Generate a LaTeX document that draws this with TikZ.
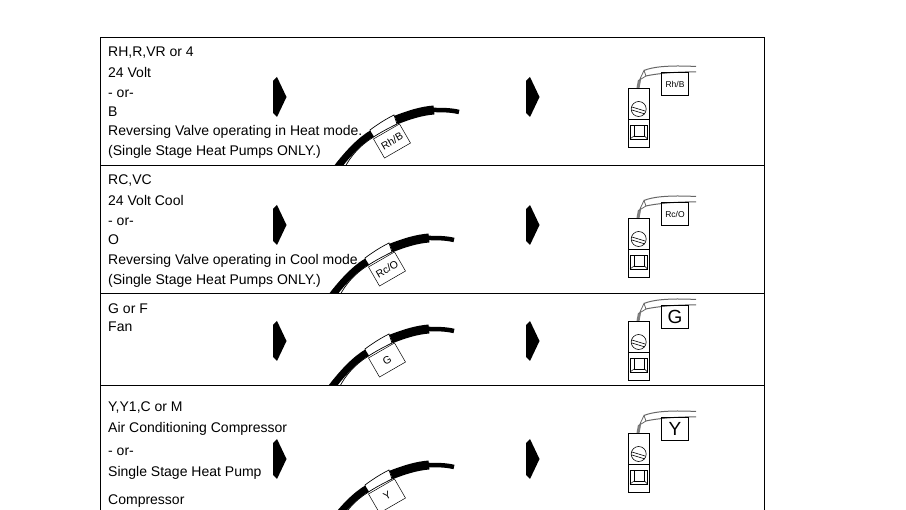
\documentclass[tikz,border=0pt]{standalone}
\usepackage{fontspec}
\setmainfont{Liberation Sans}
\tikzset{
  rowtext/.style={anchor=base west, inner sep=0pt, font=\fontsize{14}{16}\selectfont},
  wirelabel/.style={draw, line width=.5pt, rotate=30, minimum width=30pt, minimum height=22pt, inner sep=0pt, font=\fontsize{10.5}{11}\selectfont},
  termlabel/.style={draw, line width=.6pt, minimum width=27pt, minimum height=23pt, inner sep=0pt},
  pointer/.style={fill=black, draw=none},
}
% one wire bundle, measured from its free end
\newcommand{\wirebundle}[2]{
    \node[wirelabel] (#1) at (-67,29) {#2};
    \draw [line width=4.5pt] (0,0) .. controls (-8,-2) and (-17,-2) .. (-26,-2);
    \draw [line width=9pt] (-25,-2) .. controls (-38,-1) and (-50,3) .. (-63,8);
    \draw [black, fill=white, line width=.7pt] (-65,3) .. controls (-73,7) and (-81,12) .. (-89,18)
      -- (-87,26) .. controls (-78,20) and (-70,16) .. (-62,12) -- cycle;
    \draw [line width=7pt] (-87,21.5) .. controls (-98,28) and (-110,40) .. (-123,57);
    \draw [line width=.7pt] (-87,26) .. controls (-98,33) and (-108,43) .. (-115,57);
}
% one terminal with its lead, measured from the top left of the body
\newcommand{\terminal}[3]{
    \draw [gray, line width=3pt] (10,0) -- (11.5,-8);
    \draw [gray!80!black, line width=.8pt, fill=white] (11.5,-8) -- (16,-17.5) -- (18,-12) -- cycle;
    \draw [gray!80!black, line width=1pt] (16,-17.5) .. controls (24,-21) and (40,-23) .. (68,-21.5);
    \draw [gray!80!black, line width=1pt] (18,-12) .. controls (26,-14) and (48,-16.5) .. (68,-16);
    \node[termlabel, font=#3] (#1) at (47,-4) {#2};
    \draw [line width=.8pt] (0,0) rectangle (21.5,59);
    \draw [line width=.8pt] (0,31) -- (21.5,31);
    \draw [line width=.6pt] (10.7,21) circle (7.5);
    \draw [line width=.6pt] (4,19) -- (17,23);
    \draw [line width=.6pt] (4,22) -- (17,26);
    \draw [line width=.5pt] (2,37) rectangle (19.5,51);
    \draw [line width=.5pt] (6,37) rectangle (16.5,48);
    \draw [line width=.5pt] (2,51) -- (6,48) (19.5,51) -- (16.5,48);
}
\begin{document}
\begin{tikzpicture}[x=1pt,y=-1pt]
    \useasboundingbox (0,0) rectangle (906,510);
    % table
    \draw [line width=.8pt] (100,510) -- (100,37) -- (764,37) -- (764,510);
    \draw [line width=.8pt] (100,165) -- (764,165);
    \draw [line width=.8pt] (100,293) -- (764,293);
    \draw [line width=.8pt] (100,385) -- (764,385);
    % row texts
    \node[rowtext] (rha) at (108,57) {RH,R,VR or 4};
    \node[rowtext] (rhb) at (108,78) {24 Volt};
    \node[rowtext] (rhc) at (108,98) {- or-};
    \node[rowtext] (rhd) at (108,117) {B};
    \node[rowtext] (rhe) at (108,136) {Reversing Valve operating in Heat mode.};
    \node[rowtext] (rhf) at (108,156) {(Single Stage Heat Pumps ONLY.)};
    \node[rowtext] (rca) at (108,185) {RC,VC};
    \node[rowtext] (rcb) at (108,206) {24 Volt Cool};
    \node[rowtext] (rcc) at (108,226) {- or-};
    \node[rowtext] (rcd) at (108,245) {O};
    \node[rowtext] (rce) at (108,265) {Reversing Valve operating in Cool mode.};
    \node[rowtext] (rcf) at (108,285) {(Single Stage Heat Pumps ONLY.)};
    \node[rowtext] (ga) at (108,314) {G or F};
    \node[rowtext] (gb) at (108,332) {Fan};
    \node[rowtext] (ya) at (108,412) {Y,Y1,C or M};
    \node[rowtext] (yb) at (108,433) {Air Conditioning Compressor};
    \node[rowtext] (yc) at (108,456) {- or-};
    \node[rowtext] (yd) at (108,477) {Single Stage Heat Pump};
    \node[rowtext] (ye) at (108,505) {Compressor};
    % arrows
    \foreach \py in {97,225,341,459} {
      \foreach \px in {273,526} {
        \fill [pointer] (\px,\py-16) -- (\px+4,\py-20) -- (\px+13.5,\py) -- (\px+4,\py+20) -- (\px,\py+16) -- cycle;
      }
    }
    % wires
    \begin{scope}
      \clip (101,38) rectangle (763,164.5);
      \begin{scope}[shift={(459,112)}] \wirebundle{wirerh}{Rh/B} \end{scope}
    \end{scope}
    \begin{scope}
      \clip (101,166) rectangle (763,292.5);
      \begin{scope}[shift={(454,240)}] \wirebundle{wirerc}{Rc/O} \end{scope}
    \end{scope}
    \begin{scope}
      \clip (101,294) rectangle (763,384.5);
      \begin{scope}[shift={(454,331)}] \wirebundle{wireg}{G} \end{scope}
    \end{scope}
    \begin{scope}
      \clip (101,386) rectangle (763,510);
      \begin{scope}[shift={(454,467)}] \wirebundle{wirey}{Y} \end{scope}
    \end{scope}
    % terminals
    \begin{scope}[shift={(628,88)}] \terminal{termrh}{Rh/B}{\fontsize{8.5}{9}\selectfont} \end{scope}
    \begin{scope}[shift={(628,218)}] \terminal{termrc}{Rc/O}{\fontsize{8.5}{9}\selectfont} \end{scope}
    \begin{scope}[shift={(628,321)}] \terminal{termg}{G}{\fontsize{19}{20}\selectfont} \end{scope}
    \begin{scope}[shift={(628,433)}] \terminal{termy}{Y}{\fontsize{19}{20}\selectfont} \end{scope}
\end{tikzpicture}
\end{document}
